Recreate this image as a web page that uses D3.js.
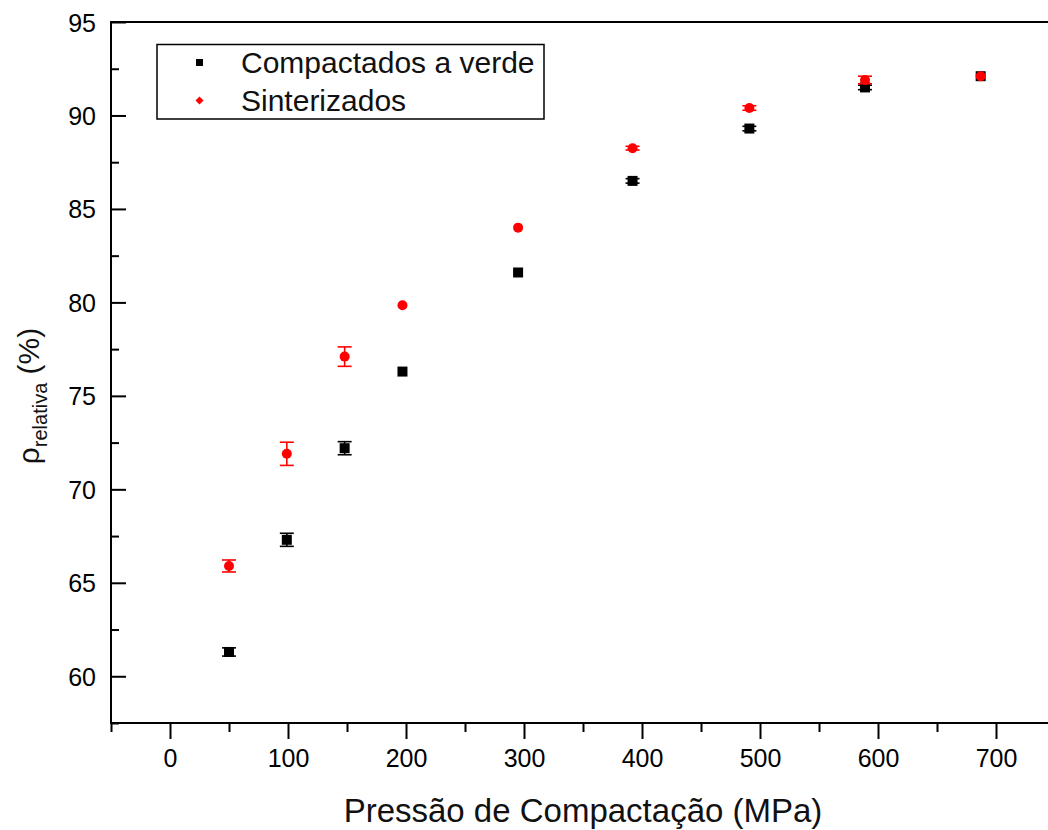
<!DOCTYPE html>
<html>
<head>
<meta charset="utf-8">
<script src="https://cdn.jsdelivr.net/npm/d3@7"></script>
<style>
  html, body { margin: 0; padding: 0; background: #fff; }
  svg { display: block; font-family: "Liberation Sans", Arial, sans-serif; }
</style>
</head>
<body>
<svg id="chart" width="1048" height="830"></svg>
<script>
// Compaction pressure (MPa)
const pressure = [50, 99, 148, 197, 295, 392, 491, 589, 687];

// Relative density (%) of green compacts and sintered parts, with error bars
const greenDensity    = [61.3, 67.3, 72.2, 76.3, 81.6, 86.5, 89.3, 91.5, 92.1];
const greenError      = [0.22, 0.35, 0.35, 0, 0, 0.12, 0.12, 0.12, 0];
const sinteredDensity = [65.9, 71.9, 77.1, 79.85, 84.0, 88.25, 90.4, 91.9, 92.1];
const sinteredError   = [0.32, 0.62, 0.52, 0, 0, 0.1, 0.12, 0.2, 0];

const seriesNames = ["Compactados a verde", "Sinterizados"];
const xTicks = [0, 100, 200, 300, 400, 500, 600, 700];
const yTicks = [60, 65, 70, 75, 80, 85, 90, 95];

const svg = d3.select("#chart");

const x = d3.scaleLinear().domain([-50, 750]).range([111, 1055]);
const y = d3.scaleLinear().domain([57.5, 95]).range([723, 22]);

const axisColor = "#000";
const lw = 2;

// Frame: left, bottom and top lines
svg.append("line").attr("x1", x(-50)).attr("x2", x(-50)).attr("y1", y(95)).attr("y2", y(57.5))
  .attr("stroke", axisColor).attr("stroke-width", lw);
svg.append("line").attr("x1", x(-50) - 1).attr("x2", 1048).attr("y1", y(57.5)).attr("y2", y(57.5))
  .attr("stroke", axisColor).attr("stroke-width", lw);
svg.append("line").attr("x1", x(-50) - 1).attr("x2", 1048).attr("y1", y(95)).attr("y2", y(95))
  .attr("stroke", axisColor).attr("stroke-width", lw);

// X axis: outward ticks, minor every 50
const xAxis = d3.axisBottom(x)
  .tickValues(d3.range(-50, 751, 50))
  .tickSize(0)
  .tickFormat("");
const gx = svg.append("g").attr("transform", `translate(0,${y(57.5)})`).call(xAxis);
gx.select(".domain").remove();
gx.selectAll(".tick line")
  .attr("stroke", axisColor).attr("stroke-width", lw)
  .attr("y2", d => (d % 100 === 0 ? 16 : 9));
gx.selectAll(".tick").filter(d => xTicks.includes(d))
  .append("text")
  .attr("y", 44).attr("text-anchor", "middle")
  .attr("fill", "#000").attr("font-size", 25)
  .attr("font-family", "Liberation Sans, Arial, sans-serif")
  .text(d => d);

// Y axis: inward ticks, minor every 2.5
const yAxis = d3.axisLeft(y)
  .tickValues(d3.range(57.5, 95.01, 2.5))
  .tickSize(0)
  .tickFormat("");
const gy = svg.append("g").attr("transform", `translate(${x(-50)},0)`).call(yAxis);
gy.select(".domain").remove();
gy.selectAll(".tick line")
  .attr("stroke", axisColor).attr("stroke-width", lw)
  .attr("x2", d => (d % 5 === 0 ? 15 : 8));
gy.selectAll(".tick").filter(d => yTicks.includes(d))
  .append("text")
  .attr("x", -15).attr("dy", "0.36em").attr("text-anchor", "end")
  .attr("fill", "#000").attr("font-size", 25)
  .attr("font-family", "Liberation Sans, Arial, sans-serif")
  .text(d => d);

// Axis titles
svg.append("text")
  .attr("x", 583).attr("y", 822).attr("text-anchor", "middle")
  .attr("font-size", 33).attr("fill", "#111")
  .text("Pressão de Compactação (MPa)");

const yTitle = svg.append("text")
  .attr("transform", "translate(39,396) rotate(-90)")
  .attr("text-anchor", "middle")
  .attr("font-size", 30).attr("fill", "#111");
yTitle.append("tspan").text("ρ");
yTitle.append("tspan").attr("font-size", 20).attr("dy", 8).text("relativa");
yTitle.append("tspan").attr("dy", -8).text(" (%)");

// Data series
const green = pressure.map((p, i) => ({ p, v: greenDensity[i], e: greenError[i] }));
const sintered = pressure.map((p, i) => ({ p, v: sinteredDensity[i], e: sinteredError[i] }));

function errorBars(data, color) {
  const g = svg.append("g").attr("stroke", color).attr("stroke-width", 1.6);
  const cap = 7;
  data.filter(d => d.e > 0).forEach(d => {
    g.append("line").attr("x1", x(d.p)).attr("x2", x(d.p))
      .attr("y1", y(d.v + d.e)).attr("y2", y(d.v - d.e));
    g.append("line").attr("x1", x(d.p) - cap).attr("x2", x(d.p) + cap)
      .attr("y1", y(d.v + d.e)).attr("y2", y(d.v + d.e));
    g.append("line").attr("x1", x(d.p) - cap).attr("x2", x(d.p) + cap)
      .attr("y1", y(d.v - d.e)).attr("y2", y(d.v - d.e));
  });
}

errorBars(green, "#000");
svg.append("g").selectAll("rect").data(green).join("rect")
  .attr("x", d => x(d.p) - 5).attr("y", d => y(d.v) - 5)
  .attr("width", 10).attr("height", 10).attr("fill", "#000");

errorBars(sintered, "#ff0000");
svg.append("g").selectAll("circle").data(sintered).join("circle")
  .attr("cx", d => x(d.p)).attr("cy", d => y(d.v))
  .attr("r", 5).attr("fill", "#ff0000");

// Legend
const legend = svg.append("g");
legend.append("rect")
  .attr("x", 157).attr("y", 44.5).attr("width", 387).attr("height", 74.5)
  .attr("fill", "#fff").attr("stroke", "#000").attr("stroke-width", 1.5);
legend.append("rect").attr("x", 196).attr("y", 59).attr("width", 7).attr("height", 7).attr("fill", "#000");
legend.append("path")
  .attr("d", "M199.5,96.5 L203.5,100.5 L199.5,104.5 L195.5,100.5 Z").attr("fill", "#ff0000");
legend.selectAll("text.lbl").data(seriesNames).join("text")
  .attr("class", "lbl")
  .attr("x", 241).attr("y", (d, i) => 73 + i * 38)
  .attr("font-size", 30).attr("fill", "#111")
  .text(d => d);
</script>
</body>
</html>
